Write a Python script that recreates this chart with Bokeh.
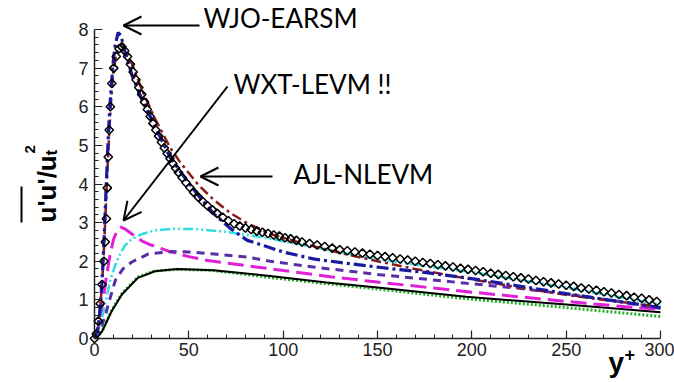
import math
from bokeh.plotting import figure
from bokeh.models import Range1d, FixedTicker, Label, Arrow, OpenHead
from bokeh.embed import file_html
from bokeh.resources import INLINE

# ---------------- data ----------------
dns_yp = [0, 1, 2, 3, 4, 5, 5.7, 6.3, 6.8, 7.3, 7.8, 8.4, 9.2, 10.2, 11.5, 13, 14.5, 16, 17.5, 19,
          20.5, 22, 23.5, 25, 26.5, 28, 29.5, 31, 32.5, 34, 35.5, 37, 38.5, 40, 41.5, 43, 44.5,
          46.5, 48.5, 50.5, 52.5, 55, 57.5, 60, 62.5, 65, 68, 71, 74, 77, 80, 83, 86, 89, 92, 95,
          98, 101, 104, 107, 110, 114, 118, 122, 126, 130, 134, 138, 142, 146, 150, 154, 158,
          162, 166, 170, 174, 178, 182, 186, 190, 194, 198, 202, 206, 210, 214, 218, 222, 226,
          230, 234, 238, 242, 246, 250, 254, 258, 262, 266, 270, 274, 278, 282, 286, 290, 294, 298]
dns_uu = [0.0, 0.12, 0.45, 0.9, 1.4, 2.0, 2.5, 3.1, 3.9, 4.7, 5.4, 6.0, 6.6, 7.0, 7.3, 7.5, 7.55,
          7.45, 7.3, 7.1, 6.9, 6.7, 6.5, 6.32, 6.12, 5.93, 5.75, 5.57, 5.4, 5.24, 5.08, 4.93, 4.79,
          4.66, 4.53, 4.41, 4.3, 4.16, 4.03, 3.91, 3.79, 3.66, 3.54, 3.43, 3.33, 3.24, 3.14, 3.05,
          2.97, 2.91, 2.86, 2.82, 2.78, 2.75, 2.72, 2.68, 2.65, 2.61, 2.58, 2.54, 2.5, 2.46, 2.42,
          2.38, 2.34, 2.3, 2.27, 2.24, 2.21, 2.18, 2.15, 2.12, 2.09, 2.06, 2.03, 2.0, 1.97, 1.94,
          1.91, 1.88, 1.85, 1.82, 1.79, 1.76, 1.73, 1.69, 1.66, 1.63, 1.6, 1.57, 1.54, 1.5, 1.47,
          1.44, 1.41, 1.38, 1.35, 1.31, 1.28, 1.25, 1.21, 1.18, 1.14, 1.11, 1.07, 1.04, 1.0, 0.96]

wjo_yp = [0, 2, 3, 4, 5, 6, 7, 8, 9, 10, 11, 12.5, 14, 16, 20, 25, 32, 40, 45.6, 55, 63, 72, 81,
          90, 100, 116, 130, 148, 175, 197, 225, 250, 275, 300]
wjo_uu = [0, 0.3, 0.8, 1.5, 2.5, 3.7, 4.9, 5.9, 6.6, 7.2, 7.6, 7.92, 7.85, 7.45, 6.8, 6.2, 5.5,
          4.7, 4.31, 3.7, 3.24, 2.85, 2.54, 2.4, 2.24, 2.06, 1.97, 1.86, 1.71, 1.57, 1.36, 1.16,
          0.98, 0.8]

ajl_yp = [0, 2, 3, 4, 5, 6, 7, 8, 9, 10, 11.5, 13, 14.5, 16, 20, 25, 32, 40, 45.6, 55, 63, 72,
          81, 95, 111, 130, 150, 170, 192, 225, 250, 275, 300]
ajl_uu = [0, 0.3, 0.8, 1.4, 2.3, 3.4, 4.5, 5.5, 6.3, 6.9, 7.35, 7.58, 7.62, 7.52, 7.1, 6.45,
          5.7, 4.95, 4.55, 3.98, 3.6, 3.25, 2.98, 2.68, 2.45, 2.22, 2.0, 1.8, 1.6, 1.32, 1.13,
          0.97, 0.82]

wxt_yp = [0, 2, 4, 6, 8, 10, 12, 14, 16, 20, 25, 30, 40, 50, 60, 80, 100, 125, 150, 175, 200,
          225, 250, 275, 300]
wxt_uu = [0, 0.25, 0.8, 1.5, 2.1, 2.55, 2.8, 2.88, 2.84, 2.7, 2.53, 2.42, 2.25, 2.12, 2.02,
          1.89, 1.76, 1.6, 1.46, 1.33, 1.2, 1.08, 0.96, 0.85, 0.75]

cyan_yp = [0, 3, 5, 8.3, 11, 13.6, 16, 19.8, 25, 32, 42, 55, 70, 85, 100, 125, 150, 175, 200,
           225, 250, 275, 300]
cyan_uu = [0, 0.3, 0.75, 1.5, 1.9, 2.19, 2.4, 2.58, 2.7, 2.8, 2.84, 2.83, 2.76, 2.65, 2.52, 2.28,
           2.05, 1.88, 1.72, 1.52, 1.32, 1.1, 0.88]

purple_yp = [0, 3, 6, 8, 11, 15, 19.8, 28.6, 41, 50, 65, 81, 93, 116, 150, 197, 225, 250, 275, 300]
purple_uu = [0, 0.2, 0.65, 1.0, 1.5, 1.8, 1.98, 2.19, 2.25, 2.24, 2.18, 2.11, 2.0, 1.85, 1.66,
             1.43, 1.3, 1.15, 0.98, 0.78]

black_yp = [0, 4, 9, 14.5, 23, 32, 44, 63, 93, 123, 150, 197, 250, 300]
black_uu = [0, 0.18, 0.7, 1.14, 1.57, 1.74, 1.8, 1.77, 1.62, 1.45, 1.32, 1.08, 0.88, 0.68]

green_yp = [0, 4, 9, 14.5, 23, 32, 44, 63, 93, 123, 150, 197, 250, 300]
green_uu = [0, 0.18, 0.72, 1.16, 1.59, 1.75, 1.79, 1.76, 1.58, 1.42, 1.28, 1.03, 0.8, 0.57]

x_ticks = [0, 50, 100, 150, 200, 250, 300]
y_ticks = [0, 1, 2, 3, 4, 5, 6, 7, 8]

# ---------------- layout helpers ----------------
W, H = 674, 382
X0, X1, Y0, Y8 = 94, 660, 338, 29          # pixel positions of the axis extremes
XS = (X1 - X0) / 300.0
YS = (Y0 - Y8) / 8.0
BASE_FIX = 0.35                            # empirical baseline correction (em)


def dx(px):
    return (px - X0) / XS


def dy(py):
    return (Y0 - py) / YS


# the frame covers the whole canvas; the axes are drawn at x=0 / y=0
p = figure(width=W, height=H, output_backend="svg", toolbar_location=None,
           x_range=Range1d(dx(0), dx(W)), y_range=Range1d(dy(H), dy(0)),
           min_border=0)
p.outline_line_color = None
p.xgrid.visible = False
p.ygrid.visible = False
p.background_fill_color = "white"
p.border_fill_color = "white"

xminor = [v for v in range(0, 301, 10) if v % 50]
yminor = [i / 5 for i in range(0, 41) if i % 5]
p.xaxis.ticker = FixedTicker(ticks=x_ticks, minor_ticks=xminor)
p.yaxis.ticker = FixedTicker(ticks=y_ticks, minor_ticks=yminor)
p.xaxis.bounds = (0, 300)
p.yaxis.bounds = (0, 8)
p.xaxis.fixed_location = 0
p.yaxis.fixed_location = 0
for ax in (p.xaxis[0], p.yaxis[0]):
    ax.axis_line_width = 1.5
    ax.axis_line_color = "#222222"
    ax.major_tick_in = 8
    ax.major_tick_out = 0
    ax.minor_tick_in = 4
    ax.minor_tick_out = 0
    ax.major_tick_line_color = "#222222"
    ax.minor_tick_line_color = "#222222"
    ax.major_tick_line_width = 1.2
    ax.minor_tick_line_width = 1
    ax.major_label_text_font = "Liberation Sans"
    ax.major_label_text_font_size = "18px"
    ax.major_label_text_color = "#222222"
p.yaxis.major_label_standoff = 6
p.xaxis.major_label_standoff = 4

# ---------------- curves ----------------
p.line(green_yp, green_uu, line_color="#22b022", line_width=3, line_dash="2 2")
p.line(black_yp, black_uu, line_color="black", line_width=2)
p.line(wxt_yp, wxt_uu, line_color="#e020d8", line_width=3, line_dash="16 7")
p.line(purple_yp, purple_uu, line_color="#5a2ea6", line_width=3, line_dash="8 6")
p.line(cyan_yp, cyan_uu, line_color="#30dde0", line_width=2.5, line_dash="10 3 2 3 2 3")
p.line(ajl_yp, ajl_uu, line_color="#8b1a1a", line_width=2.5, line_dash="10 4 3 4")
p.line(wjo_yp, wjo_uu, line_color="#1a1aa0", line_width=3.2, line_dash="12 4 3 4")
p.scatter(dns_yp, dns_uu, marker="square", angle=math.pi / 4, size=6,
          line_color="black", line_width=1.5, fill_color=None)


# ---------------- annotations ----------------
def htext(txt, px, base_py, fs, font, style="normal"):
    p.add_layout(Label(x=dx(px), y=dy(base_py - BASE_FIX * fs), text=txt, text_font=font,
                       text_font_style=style, text_font_size=f"{fs}px", text_color="black",
                       text_align="left", text_baseline="alphabetic"))


def vtext(txt, base_px, start_py, fs, font, style="normal"):
    p.add_layout(Label(x=dx(base_px - BASE_FIX * fs), y=dy(start_py), text=txt,
                       angle=math.pi / 2, text_font=font, text_font_style=style,
                       text_font_size=f"{fs}px", text_color="black",
                       text_align="left", text_baseline="alphabetic"))


ann_font = "Lato"
for txt, px, py in [("WJO-EARSM", 203, 27), ("WXT-LEVM !!", 233, 93), ("AJL-NLEVM", 293, 183)]:
    htext(txt, px, py, 26, ann_font)

for (xs, ys, xe, ye) in [(199, 25, 123, 25), (227, 86, 123, 220), (272, 176, 200, 176)]:
    p.add_layout(Arrow(end=OpenHead(size=18, line_width=2, line_color="black"),
                       x_start=dx(xs), y_start=dy(ys), x_end=dx(xe), y_end=dy(ye),
                       line_width=2, line_color="black"))

# y-axis label: overline(u'u')/u_t^2, rotated
lab_font = "Liberation Sans"
vtext("u'u'/u", 56, 222, 26, lab_font, "bold")
vtext("t", 57, 155, 17, lab_font, "bold")
vtext("2", 35, 153, 15, lab_font, "bold")
p.add_layout(Arrow(end=None, start=None, x_start=dx(21), y_start=dy(222), x_end=dx(21),
                   y_end=dy(186), line_width=2, line_color="black"))

# x-axis label: y+
htext("y", 608, 372, 28, lab_font, "bold")
htext("+", 624, 360, 18, lab_font, "bold")

open("out.html", "w").write(file_html(p, INLINE))
